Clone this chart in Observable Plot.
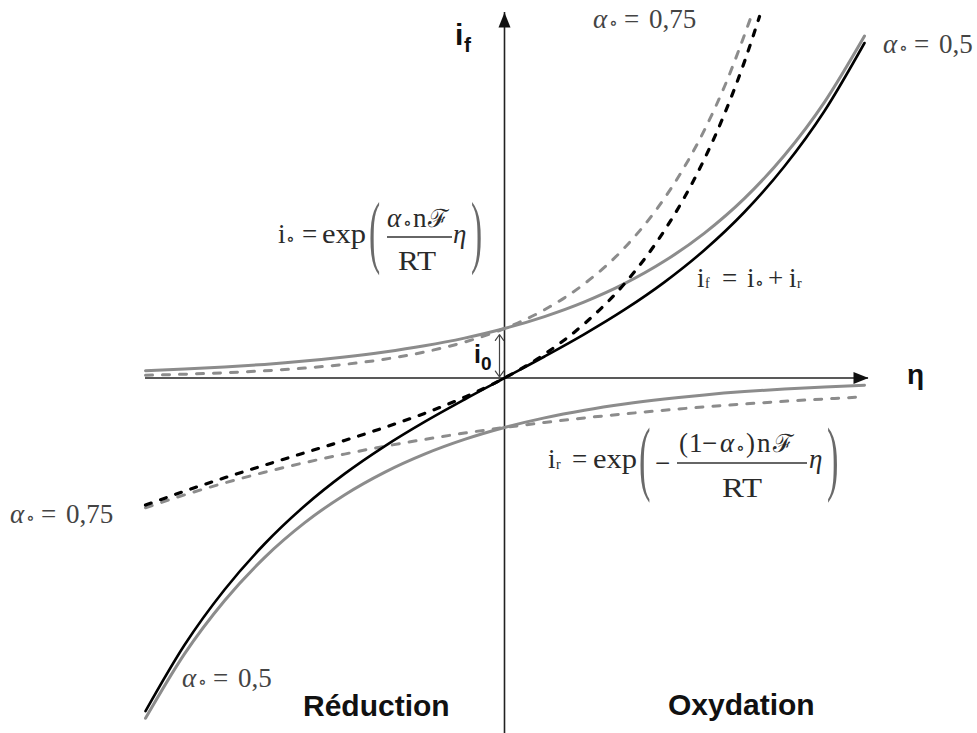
<!DOCTYPE html>
<html><head><meta charset="utf-8">
<script src="https://cdn.jsdelivr.net/npm/d3@7"></script>
<script src="https://cdn.jsdelivr.net/npm/@observablehq/plot@0.6"></script>
<style>body{margin:0;background:#fff}</style>
</head><body><div id="chart"></div>
<script>
// Overpotential η (x) and current (y) (unit = arbitrary)
// alpha = 0.5
const eta05  = [-3.59, -3.2, -2.8, -2.4, -2.0, -1.6, -1.2, -0.8, -0.4, 0, 0.4, 0.8, 1.2, 1.6, 2.0, 2.4, 2.8, 3.2, 3.6];
const iox05  = [0.072, 0.089, 0.110, 0.136, 0.169, 0.210, 0.260, 0.322, 0.399, 0.495, 0.614, 0.761, 0.943, 1.169, 1.449, 1.796, 2.227, 2.759, 3.42];
const ired05 = [-3.403, -2.759, -2.227, -1.796, -1.449, -1.169, -0.943, -0.761, -0.614, -0.495, -0.399, -0.322, -0.260, -0.210, -0.169, -0.136, -0.110, -0.089, -0.072];
const itot05 = [-3.331, -2.670, -2.117, -1.660, -1.280, -0.959, -0.683, -0.439, -0.215, 0, 0.215, 0.439, 0.683, 0.959, 1.280, 1.660, 2.117, 2.670, 3.35];
// alpha = 0.75
const etaOx075  = [-3.59, -3.2, -2.8, -2.4, -2.0, -1.6, -1.2, -0.8, -0.4, 0, 0.4, 0.8, 1.2, 1.6, 1.8, 2.0, 2.2, 2.47];
const iox075    = [0.027, 0.038, 0.052, 0.072, 0.099, 0.136, 0.188, 0.260, 0.359, 0.495, 0.683, 0.943, 1.302, 1.798, 2.112, 2.481, 2.915, 3.624];
const etaRed075 = [-3.59, -3.2, -2.8, -2.4, -2.0, -1.6, -1.2, -0.8, -0.4, 0, 0.4, 0.8, 1.2, 1.6, 2.0, 2.4, 2.8, 3.2, 3.51];
const ired075   = [-1.298, -1.169, -1.050, -0.943, -0.847, -0.761, -0.683, -0.614, -0.551, -0.495, -0.445, -0.399, -0.359, -0.322, -0.289, -0.260, -0.233, -0.210, -0.193];
const etaTot075 = [-3.59, -3.2, -2.8, -2.4, -2.0, -1.6, -1.2, -0.8, -0.4, 0, 0.4, 0.8, 1.2, 1.6, 1.8, 2.0, 2.2, 2.4, 2.55];
const itot075   = [-1.271, -1.132, -0.998, -0.872, -0.748, -0.625, -0.495, -0.354, -0.192, 0, 0.238, 0.544, 0.943, 1.476, 1.807, 2.192, 2.641, 3.164, 3.615];
// axes extents
const axisEta = [-3.59, 3.64];
const axisI   = [-3.555, 3.655];

const rows = (xs, ys) => xs.map((e, k) => ({eta: e, i: ys[k]}));
const i0 = iox05[eta05.indexOf(0)];

const headSymbol = {
  draw(ctx, size) {
    const r = Math.sqrt(size / Math.PI);
    ctx.moveTo(0, 0);
    ctx.lineTo(-0.4 * r, r);
    ctx.lineTo(0.4 * r, r);
    ctx.closePath();
  }
};

const GRAY = "#8c8c8c";
const chart = Plot.plot({
  width: 977, height: 733, margin: 0,
  x: {domain: [-5.04, 4.73], axis: null},
  y: {domain: [-3.555, 3.775], axis: null},
  marks: [
    Plot.ruleY([0], {x1: axisEta[0], x2: axisEta[1], stroke: "#222", strokeWidth: 1.6}),
    Plot.ruleX([0], {y1: axisI[0], y2: axisI[1], stroke: "#222", strokeWidth: 1.6}),
    Plot.line(rows(eta05, iox05), {x: "eta", y: "i", stroke: GRAY, strokeWidth: 3, curve: "monotone-x"}),
    Plot.line(rows(eta05, ired05), {x: "eta", y: "i", stroke: GRAY, strokeWidth: 3, curve: "monotone-x"}),
    Plot.line(rows(etaOx075, iox075), {x: "eta", y: "i", stroke: GRAY, strokeWidth: 3, strokeDasharray: "7,10", curve: "monotone-x"}),
    Plot.line(rows(etaRed075, ired075), {x: "eta", y: "i", stroke: GRAY, strokeWidth: 3, strokeDasharray: "7,10", curve: "monotone-x"}),
    Plot.line(rows(etaTot075, itot075), {x: "eta", y: "i", stroke: "#000", strokeWidth: 3.2, strokeDasharray: "6,10", curve: "monotone-x"}),
    Plot.line(rows(eta05, itot05), {x: "eta", y: "i", stroke: "#000", strokeWidth: 2.6, curve: "monotone-x"}),
    // i0 double arrow
    Plot.arrow([{a: i0 / 2, b: i0}], {x1: 0, x2: 0, y1: "a", y2: "b", dx: -5, stroke: "#444", strokeWidth: 1.2, headLength: 9, headAngle: 70, insetEnd: 6}),
    Plot.arrow([{a: i0 / 2, b: 0}], {x1: 0, x2: 0, y1: "a", y2: "b", dx: -5, stroke: "#444", strokeWidth: 1.2, headLength: 9, headAngle: 70, insetEnd: 1}),
    Plot.dot([{eta: axisEta[1], i: 0}], {x: "eta", y: "i", symbol: headSymbol, r: 15, fill: "#111", rotate: 90}),
    Plot.dot([{eta: 0, i: axisI[1]}], {x: "eta", y: "i", symbol: headSymbol, r: 15, fill: "#111"})
  ]
});
document.getElementById("chart").appendChild(chart);

// ---- annotations ----
const svg = d3.select(chart);
const g = svg.append("g").attr("text-anchor", "start");
const SERIF = "'Liberation Serif','DejaVu Serif',serif";
const SANS = "'Liberation Sans',Arial,sans-serif";
function put(x, y, s, size, o = {}) {
  const t = g.append("text").attr("x", x).attr("y", y)
    .attr("font-family", o.sans ? SANS : SERIF)
    .attr("font-size", size)
    .attr("fill", o.fill || "#2a2a2a").text(s);
  if (o.italic) t.attr("font-style", "italic");
  if (o.bold) t.attr("font-weight", "bold");
  if (o.len) t.attr("textLength", o.len).attr("lengthAdjust", "spacingAndGlyphs");
  return t;
}
function paren(x, y, s, size) {
  g.append("text").attr("transform", `translate(${x},${y}) scale(0.42,1)`)
    .attr("font-family", SERIF).attr("font-size", size).attr("fill", "#6a6a6a").text(s);
}
function bar(x1, x2, y) {
  g.append("line").attr("x1", x1).attr("x2", x2).attr("y1", y).attr("y2", y)
    .attr("stroke", "#333").attr("stroke-width", 1.3);
}
function alphaLabel(x, y, val) {
  const c = "#444";
  put(x, y, "α", 27, {italic: true, fill: c});
  put(x + 16, y + 1, "∘", 18, {fill: c});
  put(x + 31, y, "=", 27, {fill: c});
  put(x + 56, y, val, 27, {fill: c});
}

// i_o formula
put(278, 243, "i", 27);
put(286, 245, "∘", 18);
put(302, 243, "=", 27);
put(322, 243, "exp", 27, {len: 44});
paren(369, 258, "(", 80);
put(387, 227, "α", 27, {italic: true});
put(403, 229, "∘", 18);
put(413, 227, "n", 27);
put(428, 227, "ℱ", 25);
bar(387, 452, 237);
put(398, 270, "RT", 27, {len: 38});
put(453, 243, "η", 27, {italic: true});
paren(471, 258, ")", 80);

// i_r formula
put(548, 468, "i", 27);
put(556, 469, "r", 14);
put(572, 468, "=", 27);
put(593, 468, "exp", 27, {len: 44});
paren(639, 485, "(", 82);
put(655, 472, "−", 27);
put(679, 452, "(", 27);
put(689, 452, "1", 27);
put(702, 452, "−", 27);
put(720, 452, "α", 27, {italic: true});
put(736, 454, "∘", 18);
put(746, 452, ")", 27);
put(757, 452, "n", 27);
put(773, 452, "ℱ", 25);
bar(677, 807, 463);
put(722, 497, "RT", 27, {len: 40});
put(809, 468, "η", 27, {italic: true});
paren(827, 485, ")", 82);

// i_f = i_o + i_r
put(697, 287, "i", 27);
put(705, 288, "f", 14);
put(722, 287, "=", 27);
put(747, 287, "i", 27);
put(755, 289, "∘", 18);
put(768, 287, "+", 27);
put(789, 287, "i", 27);
put(797, 288, "r", 14);

// alpha labels
alphaLabel(593, 28, "0,75");
alphaLabel(883, 53, "0,5");
alphaLabel(10, 523, "0,75");
alphaLabel(182, 687, "0,5");

// bold sans labels
put(455, 45, "i", 30, {sans: true, bold: true, fill: "#111"});
put(464, 52, "f", 21, {sans: true, bold: true, fill: "#111"});
put(474, 363, "i", 25, {sans: true, bold: true, fill: "#111"});
put(481, 370, "0", 19, {sans: true, bold: true, fill: "#111"});
put(907, 384, "η", 28, {sans: true, bold: true, fill: "#111"});
put(303, 716, "Réduction", 30, {sans: true, bold: true, fill: "#111"});
put(668, 715, "Oxydation", 30, {sans: true, bold: true, fill: "#111"});
</script>
</body></html>
